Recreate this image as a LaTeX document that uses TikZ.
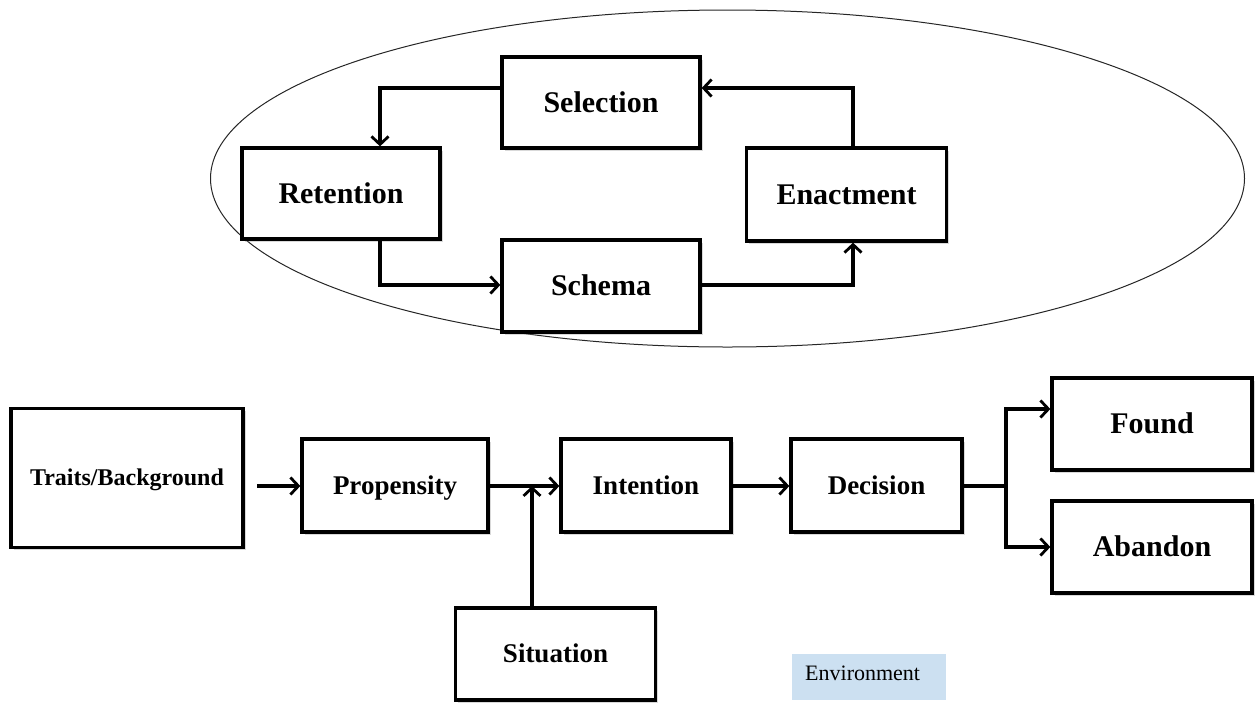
\documentclass[tikz,border=0pt]{standalone}
\usepackage{fontspec}
\setmainfont{Liberation Serif}
\usetikzlibrary{arrows.meta,shadows}
\begin{document}
\begin{tikzpicture}[x=1pt,y=-1pt,
  box/.style={draw=black,line width=3.3pt,fill=white,inner sep=0pt,
    font=\bfseries\fontsize{30}{34}\selectfont,text height=19.9pt,text depth=0pt,
    drop shadow={shadow xshift=2.5pt,shadow yshift=-2.5pt,opacity=0.3,fill=gray}},
  midbox/.style={box,font=\bfseries\fontsize{27}{31}\selectfont,text height=17.9pt},
  flow/.style={line width=3.3pt,-{Straight Barb[length=8pt,width=17pt,line width=2.8pt]}},
  link/.style={line width=3.3pt}]
\useasboundingbox (0,0) rectangle (1255,702);
% outer cycle
\draw[line width=1pt,draw=black!85] (727.5,178.5) ellipse [x radius=517, y radius=168.5];
\node[box,minimum width=198pt,minimum height=91pt] (sel) at (601,102.5) {Selection};
\node[box,minimum width=198pt,minimum height=91pt] (ret) at (341,193.5) {Retention};
\node[box,minimum width=198pt,minimum height=92pt] (sch) at (601,286) {Schema};
\node[box,minimum width=200pt,minimum height=93pt] (ena) at (846.5,194.5) {Enactment};
\draw[flow] (sel.west |- 0,88) -| (ret.north -| 380,0);
\draw[flow] (ret.south -| 380,0) |- (sch.west |- 0,285);
\draw[flow] (sch.east |- 0,285) -| (ena.south -| 853,0);
\draw[flow] (ena.north -| 853,0) |- (sel.east |- 0,88);
% process chain
\node[box,minimum width=232pt,minimum height=139pt,font=\bfseries\fontsize{24}{28}\selectfont,text height=15.9pt] (tra) at (127,478) {Traits/Background};
\node[midbox,minimum width=186pt,minimum height=93pt] (pro) at (395,485.5) {Propensity};
\node[midbox,minimum width=170pt,minimum height=93pt] (int) at (646,485.5) {Intention};
\node[midbox,minimum width=171pt,minimum height=93pt] (dec) at (876.5,485.5) {Decision};
\node[box,minimum width=200pt,minimum height=92pt] (fou) at (1152,424) {Found};
\node[box,minimum width=200pt,minimum height=92pt] (aba) at (1152,547) {Abandon};
\node[midbox,minimum width=200pt,minimum height=92pt] (sit) at (555.5,654) {Situation};
\coordinate (tstart) at (257,486);
\coordinate (join) at (532,486);
\coordinate (fork) at (1006,486);
\draw[flow] (tstart) -- (pro.west |- tstart);
\draw[flow] (pro.east |- join) -- (int.west |- join);
\draw[flow] (sit.north -| join) -- (join);
\draw[flow] (int.east |- join) -- (dec.west |- join);
\draw[link] (dec.east |- fork) -- (fork);
\draw[flow] (fork) |- (fou.west |- 0,409);
\draw[flow] (fork) |- (aba.west |- 0,547);
% legend
\node[fill={rgb,255:red,204;green,224;blue,241},minimum width=154pt,minimum height=46pt,inner sep=0pt] (env) at (869,677) {};
\node[anchor=west,inner sep=0pt,font=\fontsize{22}{26}\selectfont] (envt) at (805,673) {Environment};
\end{tikzpicture}
\end{document}
